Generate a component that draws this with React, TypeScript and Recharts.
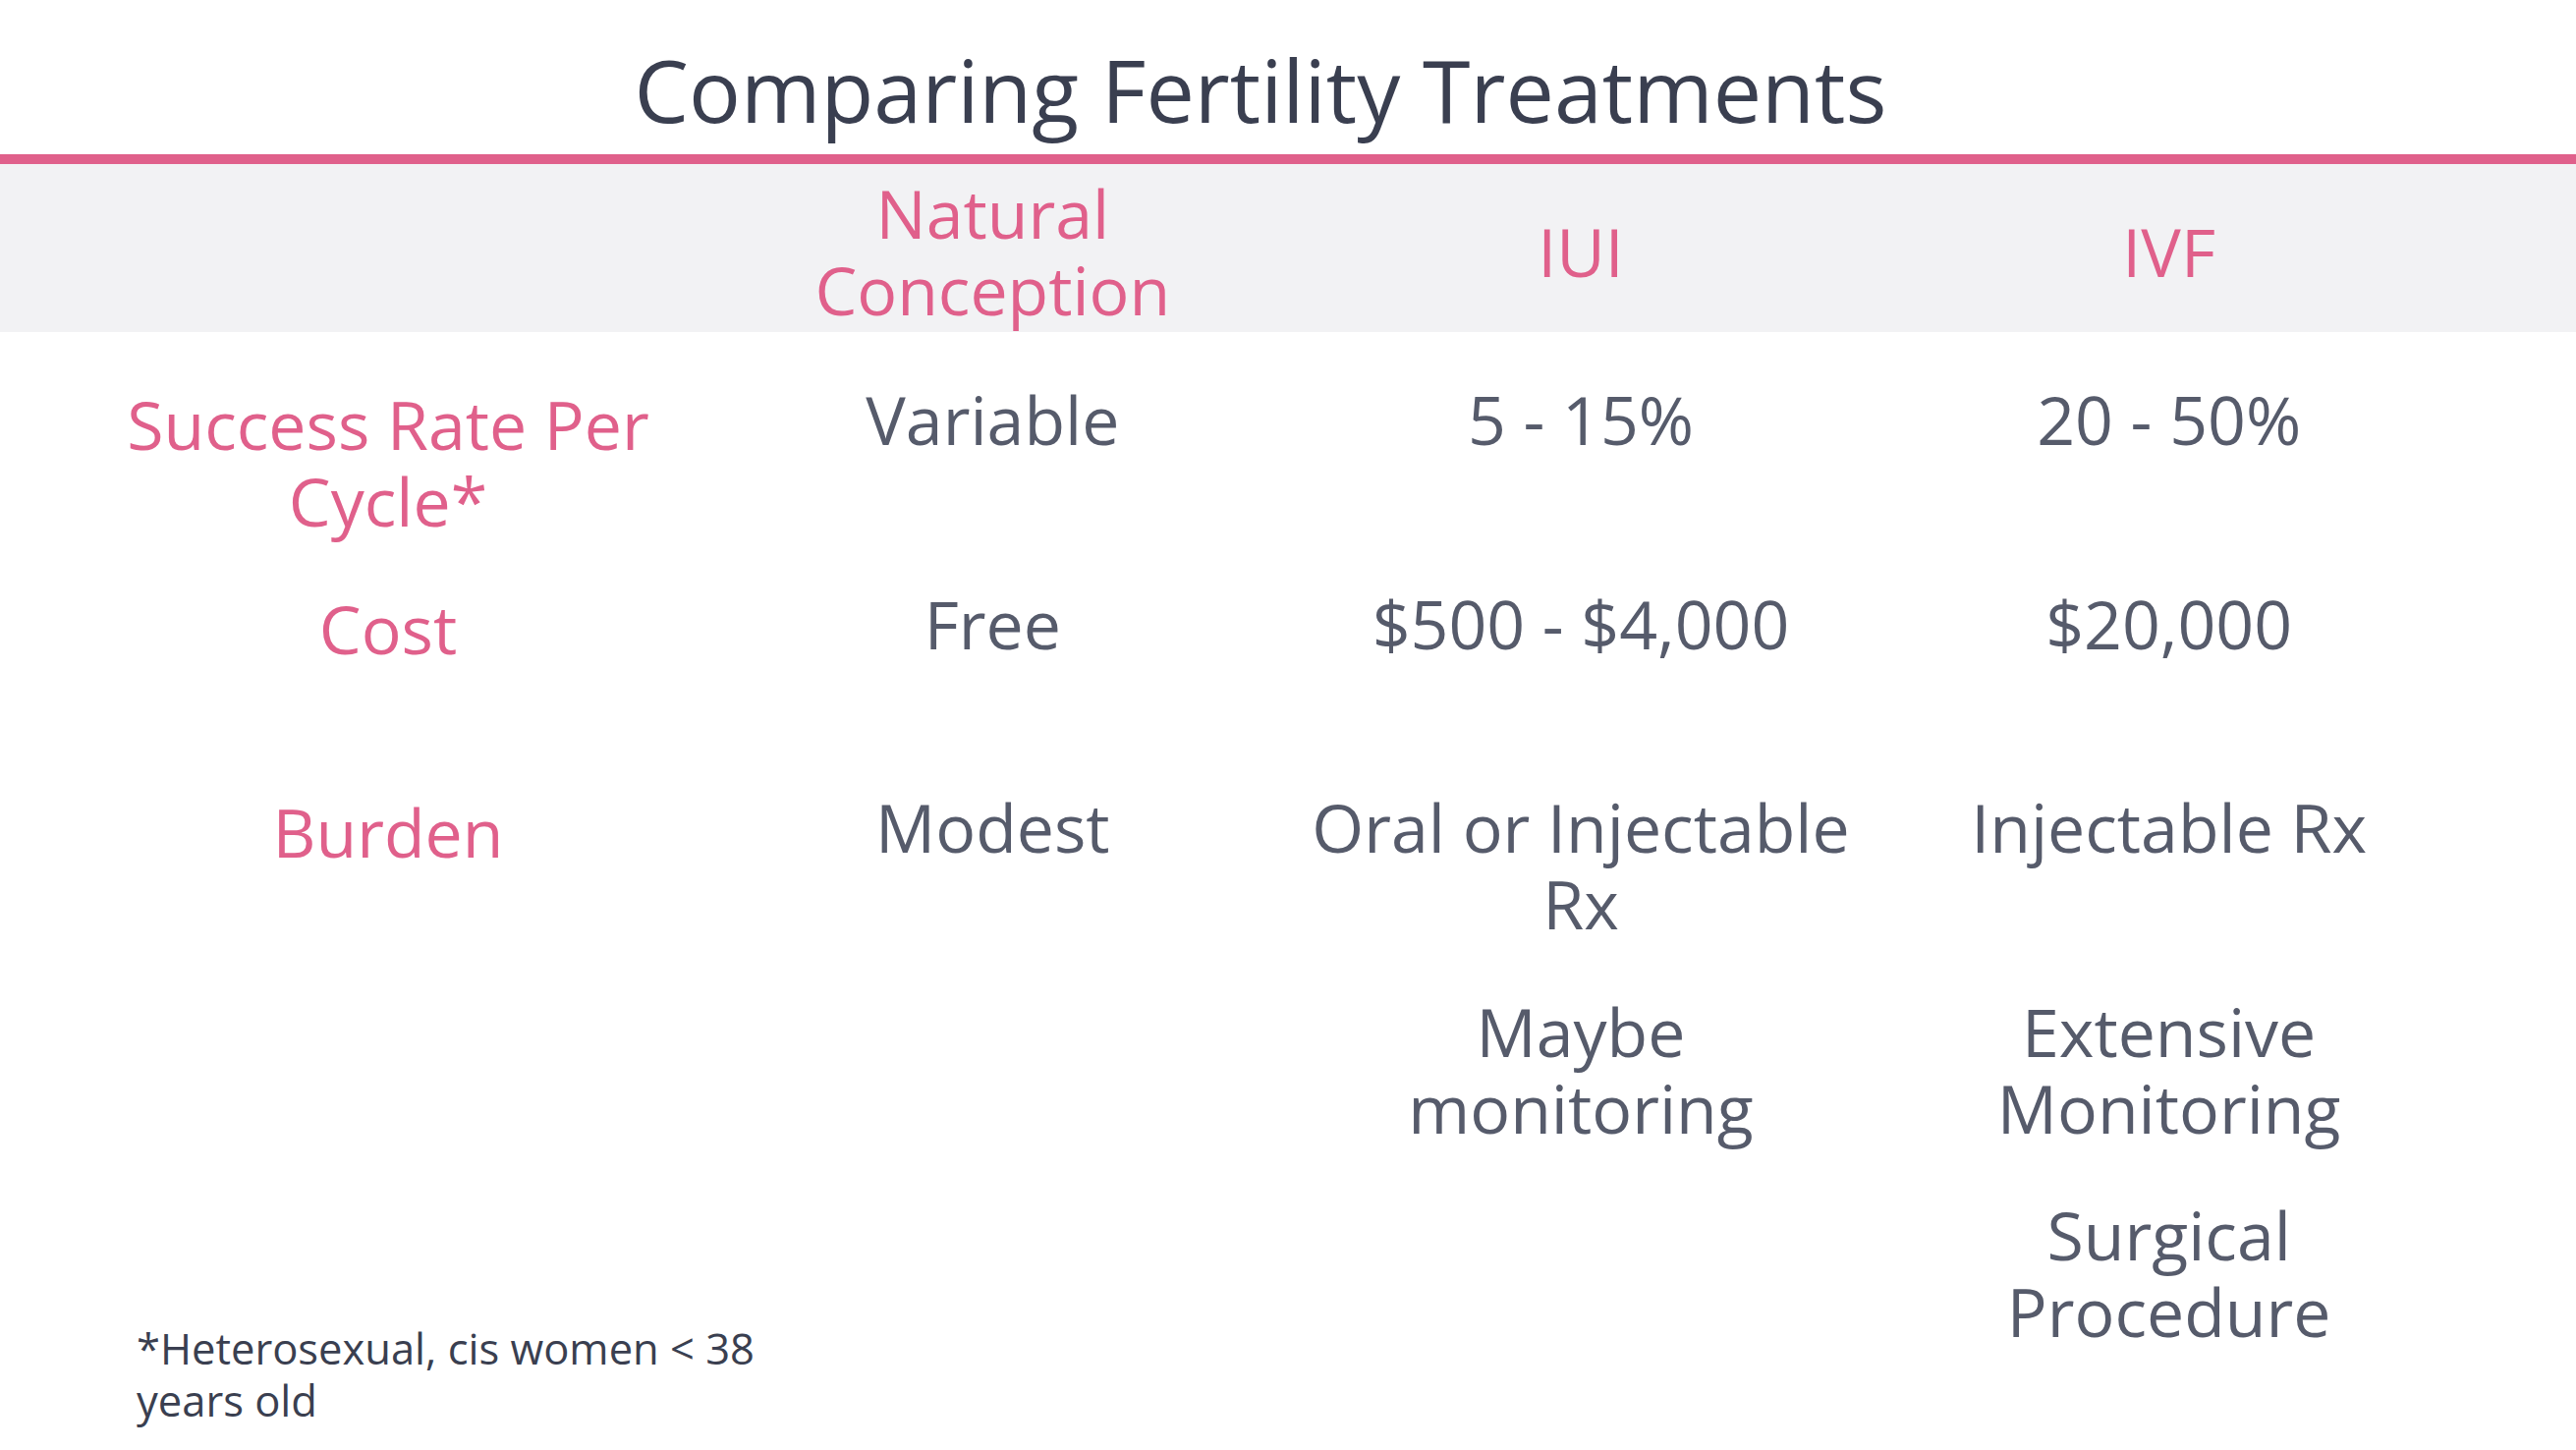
import React from "react";
import { ScatterChart, Scatter, XAxis, YAxis } from "recharts";

const FONT = "'Open Sans', 'Noto Sans', sans-serif";
const PINK = "#e0608b";
const GREY_TEXT = "#565b6b";
const TITLE_COLOR = "#3a3f50";

// columns and rows of the comparison table
const columns = ["Natural Conception", "IUI", "IVF"];
const rowLabels = ["Success Rate Per Cycle*", "Cost", "Burden"];

// cell text per column, one entry per row (Burden continues on the rows below)
const naturalValues = ["Variable", "Free", "Modest"];
const iuiValues = ["5 - 15%", "$500 - $4,000", "Oral or Injectable Rx", "Maybe monitoring"];
const ivfValues = [
  "20 - 50%",
  "$20,000",
  "Injectable Rx",
  "Extensive Monitoring",
  "Surgical Procedure",
];

const footnote = "*Heterosexual, cis women < 38 years old";

const valuesByColumn = [naturalValues, iuiValues, ivfValues];
const cells = valuesByColumn.flatMap((vals, col) =>
  vals.map((text, row) => ({ x: col, y: row, text }))
);

const W = 2622;
const H = 1476;
const FS = 68;
const LINE_H = 78;
const CELL_W = 560;

let ctx: CanvasRenderingContext2D | null = null;
function wrap(text: string): string[] {
  if (!ctx) {
    ctx = document.createElement("canvas").getContext("2d");
  }
  if (!ctx) return [text];
  ctx.font = `${FS}px 'Open Sans'`;
  const words = text.split(" ");
  const lines: string[] = [];
  let cur = "";
  words.forEach((w) => {
    const test = cur ? cur + " " + w : w;
    if (cur && ctx!.measureText(test).width > CELL_W) {
      lines.push(cur);
      cur = w;
    } else {
      cur = test;
    }
  });
  if (cur) lines.push(cur);
  return lines;
}

// draws a wrapped block; anchor "top" puts the first cap-top at y, "middle" centres the block
function Block({ x, y, text, fill, anchor }: any) {
  const lines = wrap(text);
  const cap = FS * 0.71;
  const firstBaseline =
    anchor === "middle" ? y + cap / 2 - ((lines.length - 1) * LINE_H) / 2 : y + cap;
  return (
    <text x={x} textAnchor="middle" fontSize={FS} fontFamily={FONT} fill={fill}>
      {lines.map((l, i) => (
        <tspan key={i} x={x} y={firstBaseline + i * LINE_H}>
          {l}
        </tspan>
      ))}
    </text>
  );
}

const CellText = (props: any) => {
  const { cx, cy, payload } = props;
  return <Block x={cx} y={cy - 37} text={payload.text} fill={GREY_TEXT} anchor="top" />;
};

const HeaderTick = (props: any) => {
  const { x, y, payload } = props;
  return <Block x={x} y={y - 80} text={columns[payload.value]} fill={PINK} anchor="middle" />;
};

const RowTick = (props: any) => {
  const { x, y, payload } = props;
  return <Block x={x - 316} y={y - 32} text={rowLabels[payload.value]} fill={PINK} anchor="top" />;
};

export default function App() {
  return (
    <div
      style={{
        position: "absolute",
        left: 0,
        top: 0,
        width: W,
        height: H,
        background: "#ffffff",
        fontFamily: FONT,
        overflow: "hidden",
      }}
    >
      {/* header band + pink rule */}
      <div
        style={{ position: "absolute", left: 0, top: 167, width: W, height: 171, background: "#f2f2f4" }}
      />
      <div style={{ position: "absolute", left: 0, top: 157, width: W, height: 10, background: PINK }} />
      <div
        style={{
          position: "absolute",
          left: 1283,
          top: 47,
          transform: "translateX(-50%)",
          whiteSpace: "nowrap",
          fontSize: 88,
          lineHeight: "88px",
          color: TITLE_COLOR,
        }}
      >
        Comparing Fertility Treatments
      </div>
      <div
        style={{
          position: "absolute",
          left: 139,
          top: 1346,
          width: 720,
          fontSize: 43.5,
          lineHeight: "53px",
          color: TITLE_COLOR,
        }}
      >
        {footnote}
      </div>
      <div style={{ position: "absolute", left: 0, top: 0 }}>
        <ScatterChart width={W} height={H} margin={{ top: 167, right: 115, bottom: 100, left: 0 }}>
          <XAxis
            type="number"
            dataKey="x"
            orientation="top"
            domain={[-0.5, 2.5]}
            ticks={[0, 1, 2]}
            height={171}
            axisLine={false}
            tickLine={false}
            tickSize={0}
            tickMargin={0}
            tick={<HeaderTick />}
          />
          <YAxis
            type="number"
            dataKey="y"
            reversed
            domain={[-0.5, 4.5]}
            ticks={[0, 1, 2]}
            width={711}
            axisLine={false}
            tickLine={false}
            tickSize={0}
            tickMargin={0}
            tick={<RowTick />}
          />
          <Scatter data={cells} shape={<CellText />} isAnimationActive={false} />
        </ScatterChart>
      </div>
    </div>
  );
}
